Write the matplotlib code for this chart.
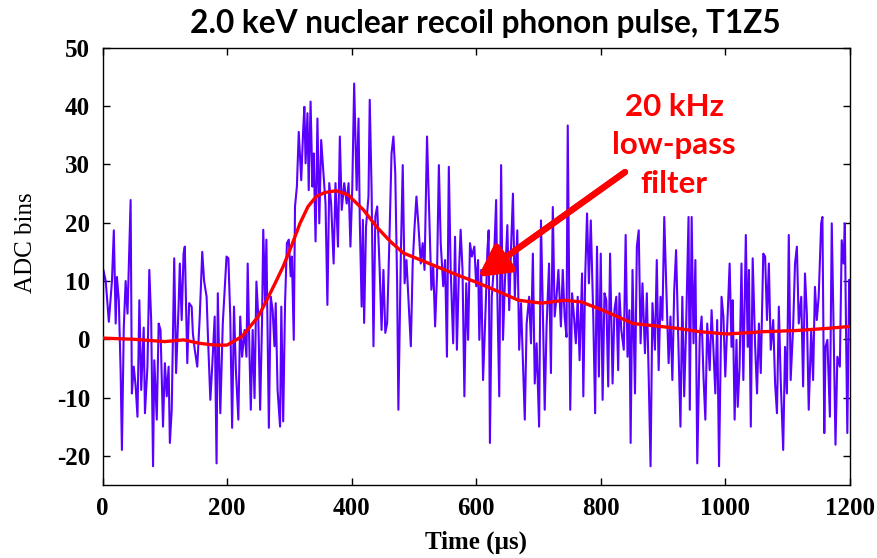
import numpy as np
import matplotlib
matplotlib.use("Agg")
import matplotlib.pyplot as plt
from matplotlib.patches import FancyArrowPatch
import matplotlib.patheffects as pe

# ---- raw phonon pulse, time in microseconds ----
tA = [0,1,5,10,15,18,21,23,26,29,31,34,37,40,45,47,50,53,56,59,62,66,68,72,75,78,81,83,87,90,93,97,100,103,106,108,111,115,118,122,124,127,130,132,136,139,143,145,148,152,156,160,163,167,169,173,176,180,183,185,189,193,199]
vA = [-8,12,10,3,10,18.7,2.7,10.7,6.7,-5.8,-19,2,10,4.4,23.9,-9.3,-4.7,-8,-13.3,6.7,-8.7,2,-12.7,-4.7,11.9,3.3,-21.8,-3.6,-13.8,2.7,1.6,-15,-4.1,-9.8,-4.7,-17.8,-12.1,13.9,-5.8,5.6,13,3.3,14.7,15.9,-4.1,6.2,5.6,1,-1.8,-4.7,3.9,15,10,7.3,1,-10.4,-4.7,3.9,-21.3,7.9,-12.7,2.7,14.2]

tB = [202,205,208,211,214,218,221,224,228,231,233,236,238,241,244,247,250,253,256,258,261,263,267,270,273,276,278,281,285,287,290,293,296,299,302,304,307,309,312,315,319,322,324,326,329,331,334,337,339,342,345,348,351,355,358,361,364,367,371,374,378,381,384,388,392,395]
vB = [13.9,3.9,-15.2,5.6,-5.2,-13.8,3.9,-3,1.6,-3,13,-3,-12.1,1.6,-10.1,9.9,3.9,-12.1,2.8,18.8,6.2,17.1,-15.2,7.3,5.1,-1.2,6.2,-8.7,-15,5.6,-14.1,6.2,16.5,17.1,10.8,14.2,-0.1,22.8,26.2,35.6,27.3,35.6,39.9,30.2,38.8,25.6,40.8,26.2,31.9,16.8,37.9,19.9,34.2,27.9,23.3,5.9,26.8,23.3,13,26.8,15.9,34.8,22.2,26.8,23.3,26.8]

tC = [398,401,404,408,411,413,416,418,420,423,427,429,432,435,438,441,445,448,451,454,457,461,464,467,470,473,475,479,482,485,488,491,495,498,501,504,507,511,514,517,521,524,528,531,534,537,540,543,547,550,553,556,559,563,566,569,572,575,578,581,584,587,590,593,597]
vC = [15.9,26.2,43.9,25.6,37.9,20.5,5.6,20.5,2.8,19.3,24.5,41.1,25.6,-1.2,21.1,22.8,11.9,1.6,11.9,1.1,2.8,18.8,31.9,34.8,28.5,9.6,-12.1,14.8,29.9,9.6,13.6,7.3,-1.2,13,19.3,24.5,19.9,13,16.5,11.9,34.8,23.3,8.5,12.5,2.2,10.8,29.9,16.5,9.1,13.6,-3,29.6,11.9,-0.7,17.6,-1.8,10.8,18.8,11.9,-9.8,9.6,-0.1,16.5,14.2,15.9]

tD = [600,603,605,608,611,615,618,620,622,625,628,632,634,637,640,643,646,650,653,656,659,662,666,669,672,675,678,681,685,688,691,694,697,701,704,707,710,713,717,720,723,726,729,732,736,739,742,745,747,751,754,757,760,763,766,770,772,775,778,781,784,788,791,794,797]
vD = [9.1,13.6,-0.1,11.9,-7,5,15.3,18.7,-17.8,7.3,11.9,23.9,7.3,-9.8,29.9,-0.1,9.6,19.6,5,15.9,25,7.3,18.7,-1.8,6.2,-4.1,-13.8,2.7,7.3,-0.7,14.7,-7.6,-0.7,-15,20.4,5,-12.1,2.2,13,-5.8,22.7,3.9,7.3,11.9,2.2,11.9,3.9,0.4,36.7,-12.1,7.9,3.9,-0.7,7.3,-3.6,11.3,-9.8,10.7,21.6,9.6,20.4,3.9,-12.7,15.9,-6.4]

tE = [800,803,806,809,812,815,819,822,825,828,830,833,837,840,843,846,848,851,855,858,861,864,867,871,874,877,880,883,887,890,893,896,899,902,906,909,912,915,918,921,925,928,931,934,937,941,943,946,949,952,955,959,962,965,968,971,975,978,981,984,987,990,994,997,1000]
vE = [14.7,-10.4,7.9,6.7,-8.1,14.7,-7.6,5,7.3,-5.3,7.9,1.6,-1.8,17.9,-3,5,-17.8,11.9,-9.3,15.9,18.7,-0.7,9.6,-2.4,7.9,-6.4,-21.8,6.2,-1.8,13.6,-5.3,7.3,3.3,21,6.2,-4.1,3.9,-7,8.4,15.3,-1.8,-15,7.3,-9.8,1.6,21,-12.1,21,-0.7,13.6,-21.3,0.4,3.9,-6.4,-13.8,2.7,-5.3,5,-1.8,-9.3,3.3,-21.8,7.3,3.9,-6.4]

tF = [1007,1010,1012,1015,1018,1020,1023,1026,1029,1033,1036,1038,1041,1044,1048,1051,1054,1057,1061,1064,1067,1070,1073,1077,1080,1083,1086,1089,1093,1096,1099,1102,1105,1109,1112,1115,1118,1122,1125,1128,1131,1134,1138,1141,1144,1147,1150,1154,1156,1159,1161,1164,1168,1171,1174,1177,1180,1184,1187,1190,1192,1194,1196,1199,1200]
vF = [13,-1.3,6.7,-13.8,-0.1,-11.6,-4.7,13,-7,17.9,-1.3,11.9,-15,13.9,-1.3,-9.3,2.7,-5.8,14.7,14.2,3.3,13,-1.8,3.3,-7.6,-12.7,5.6,-7,-19,-1.3,-9.3,17.9,-7,2.2,13,15.9,2.7,7.3,-8.1,11.3,4.4,-12.1,1.6,-7,9,3.3,7.3,19.9,21,-16.1,-1.3,-0.1,-13.3,19.9,1.6,-18.1,-3,-4.7,17,13,19.9,1,-16.1,10.2,2.2]

# ---- 20 kHz low-pass filtered pulse ----
filt_t = [0,50,100,130,156,180,200,224,250,264,277,290,304,317,330,343,357,375,394,419,440,462,483,504,536,568,600,631,668,705,742,769,803,852,879,921,959,1003,1061,1114,1168,1200]
filt_v = [0.2,0.0,-0.4,-0.1,-0.7,-1.0,-1.0,0.5,3.9,6.8,9.6,12.5,16.2,19.9,22.8,24.5,25.2,25.5,24.8,22.2,19.3,16.8,14.8,13.9,12.5,11.1,9.8,8.4,6.7,6.2,6.7,6.4,5.0,2.7,2.4,1.9,1.3,0.9,1.3,1.5,1.9,2.2]

xticks = [0, 200, 400, 600, 800, 1000, 1200]
yticks = [-20, -10, 0, 10, 20, 30, 40, 50]

raw_t = tA + tB + tC + tD + tE + tF
raw_v = vA + vB + vC + vD + vE + vF
assert len(raw_t) == len(raw_v)
assert len(filt_t) == len(filt_v)

fig = plt.figure(figsize=(8.77, 5.58), dpi=100)
ax = fig.add_axes([0.117, 0.131, 0.852, 0.783])

ax.plot(raw_t, raw_v, color="#5a00ff", lw=1.5, solid_joinstyle="round", zorder=2)
ax.plot(filt_t, filt_v, color="#ff0000", lw=2.4, zorder=3)

ax.set_xlim(0, 1200)
ax.set_ylim(-25, 50)
ax.set_xticks(xticks)
ax.set_yticks(yticks)

serif = "Liberation Serif"
ax.set_xticklabels([str(v) for v in xticks], fontfamily=serif, fontweight="bold", fontsize=18)
ax.set_yticklabels([str(v) for v in yticks], fontfamily=serif, fontweight="bold", fontsize=18)
ax.tick_params(direction="in", length=5, width=1, top=True, right=True, pad=9)
for s in ax.spines.values():
    s.set_linewidth(1.0)

ax.set_xlabel("Time (\u00b5s)", fontfamily=serif, fontweight="bold", fontsize=18)
ax.set_ylabel("ADC bins", fontfamily=serif, fontweight="normal", fontsize=18)
ax.xaxis.set_label_coords(0.5, -0.105)
ax.yaxis.set_label_coords(-0.088, 0.555)

fig.text(0.553, 0.958, "2.0 keV nuclear recoil phonon pulse, T1Z5", ha="center", va="center",
         fontfamily="Lato", fontweight="bold", fontsize=22.8)

# annotation
ax.text(918, 33.3, "20 kHz\nlow-pass\nfilter", ha="center", va="center", color="#ff0000",
        fontfamily="Lato", fontweight="bold", fontsize=22.5, linespacing=1.45, zorder=6)

arrow = FancyArrowPatch((839, 28.7), (603, 10.7), arrowstyle="-|>,head_length=0.85,head_width=0.45",
                        mutation_scale=22, color="#ff0000", lw=4.5, shrinkA=0, shrinkB=0, zorder=5,
                        path_effects=[pe.withSimplePatchShadow(offset=(2, -2), shadow_rgbFace="#777777", alpha=0.45),
                                      pe.Normal()])
ax.add_patch(arrow)

fig.savefig("out.png", dpi=100)
